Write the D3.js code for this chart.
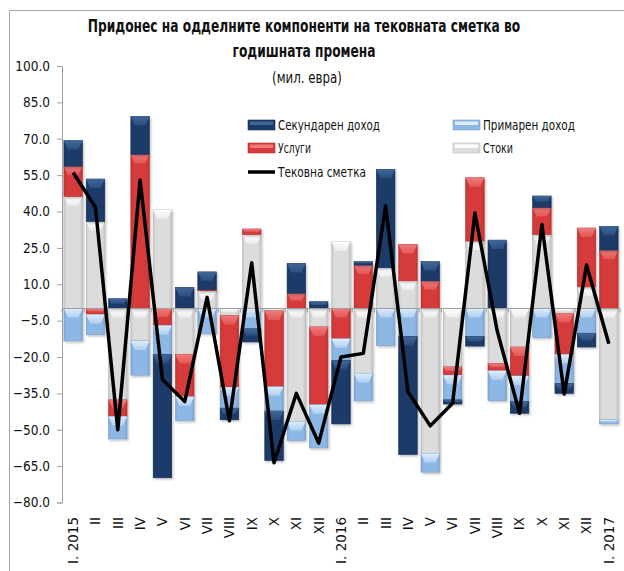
<!DOCTYPE html>
<html>
<head>
<meta charset="utf-8">
<script src="https://cdn.jsdelivr.net/npm/d3@7/dist/d3.min.js"></script>
<style>
  html, body { margin: 0; padding: 0; background: #fff; }
  svg { display: block; }
</style>
</head>
<body>
<svg id="chart" width="624" height="571"></svg>
<script>
// months on the category axis
const months = ["I. 2015","II","III","IV","V","VI","VII","VIII","IX","X","XI","XII",
                "I. 2016","II","III","IV","V","VI","VII","VIII","IX","X","XI","XII","I. 2017"];

// contributions, mil. EUR
const goods     = [46.2, 35.9, -37.7, -13.4, 40.7, -19.0, 7.3, -2.9, 30.5, -1.0, -46.6, -7.6,
                   27.5, -26.8, 16.8, 11.4, -59.8, -24.1, 27.8, -22.7, -15.9, 30.5, -2.0, 8.9, -45.9];
const services  = [12.5, -2.5, -6.8, 63.6, -7.0, -17.4, 0.5, -29.6, 2.3, -31.3, 6.3, -32.1,
                   -12.5, 17.9, 0.0, 15.0, 11.4, -3.4, 26.1, -3.0, -11.9, 11.2, -17.0, 24.3, 24.1];
const primary   = [-13.4, -8.3, -9.3, -14.1, -12.0, -9.9, -10.4, -8.6, -8.4, -10.0, -7.8, -17.8,
                   -8.9, -11.3, -15.3, -11.5, -7.7, -10.2, -11.5, -12.3, -10.6, -12.0, -12.0, -10.2, -1.7];
const secondary = [10.5, 17.5, 4.0, 15.6, -50.8, 8.7, 7.3, -4.8, -5.4, -20.4, 12.3, 2.8,
                   -26.2, 1.4, 40.6, -48.7, 7.9, -1.7, -4.0, 28.2, -4.8, 4.7, -4.0, -5.7, 9.8];
const current   = [56.1, 41.7, -50.0, 53.0, -29.3, -38.4, 4.6, -46.3, 18.9, -63.6, -35.0, -55.5,
                   -20.0, -18.5, 42.4, -34.3, -48.4, -39.1, 39.4, -9.3, -43.2, 34.6, -35.3, 17.9, -14.5];

const yTicks = d3.range(100, -81, -15);

// stacking order as in the original: goods, services, primary, secondary
const series = [
  { key: "goods",     name: "Стоки",            values: goods,     base: "#dcdcdc", top: "#ffffff", edge: "#b8b8b8" },
  { key: "services",  name: "Услуги",           values: services,  base: "#d63a3a", top: "#f07a7a", edge: "#b83030" },
  { key: "primary",   name: "Примарен доход",   values: primary,   base: "#8db8e6", top: "#dcecfb", edge: "#7aa0c8" },
  { key: "secondary", name: "Секундарен доход", values: secondary, base: "#1d3b69", top: "#3e6799", edge: "#17305a" }
];

const narrow = "'DejaVu Sans Condensed', 'Liberation Sans Narrow', 'Arial Narrow', sans-serif";

const svg = d3.select("#chart");

// squeeze a text horizontally so it spans the given width (the original uses a narrow face)
function fitText(sel, x, y, width, anchor) {
  const w = sel.node().getComputedTextLength();
  const sx = Math.min(1, width / w);
  sel.attr("x", 0).attr("y", 0)
     .attr("text-anchor", anchor)
     .attr("transform", `translate(${x},${y}) scale(${sx},1)`);
}

// outer frame (only top and left edges are visible)
svg.append("path")
    .attr("d", "M9.5,640 L9.5,10.5 L700,10.5")
    .attr("fill", "none")
    .attr("stroke", "#a6a6a6");

// title
const title = svg.append("g")
    .attr("font-family", narrow)
    .attr("fill", "#111");
fitText(title.append("text")
    .attr("font-size", 17.5).attr("font-weight", "bold")
    .text("Придонес  на одделните компоненти  на тековната сметка во"), 304, 32, 433, "middle");
fitText(title.append("text")
    .attr("font-size", 17.5).attr("font-weight", "bold")
    .text("годишната  промена"), 304, 57, 143, "middle");
fitText(title.append("text")
    .attr("font-size", 16)
    .text("(мил. евра)"), 307, 83, 70, "middle");

// scales
const x = d3.scaleBand()
    .domain(d3.range(months.length))
    .range([62, 620])
    .paddingInner(0.17)
    .paddingOuter(0.085);

const y = d3.scaleLinear()
    .domain([-80, 100])
    .range([502.5, 66]);

// drop shadow for the bars
const defs = svg.append("defs");
const shadow = defs.append("filter").attr("id", "shadow")
    .attr("x", "-20%").attr("y", "-20%").attr("width", "150%").attr("height", "150%");
shadow.append("feDropShadow")
    .attr("dx", 1.2).attr("dy", 1.5).attr("stdDeviation", 1)
    .attr("flood-color", "#000").attr("flood-opacity", 0.25);

// side shading gradient per series
series.forEach(s => {
  const g = defs.append("linearGradient").attr("id", "grad-" + s.key)
      .attr("x1", 0).attr("x2", 1).attr("y1", 0).attr("y2", 0);
  g.append("stop").attr("offset", "0%").attr("stop-color", d3.color(s.base).darker(0.25));
  g.append("stop").attr("offset", "15%").attr("stop-color", s.base);
  g.append("stop").attr("offset", "85%").attr("stop-color", s.base);
  g.append("stop").attr("offset", "100%").attr("stop-color", d3.color(s.base).darker(0.3));
  const t = defs.append("linearGradient").attr("id", "top-" + s.key)
      .attr("x1", 0).attr("x2", 0).attr("y1", 0).attr("y2", 1);
  t.append("stop").attr("offset", "0%").attr("stop-color", s.top);
  t.append("stop").attr("offset", "100%").attr("stop-color", d3.interpolateRgb(s.top, s.base)(0.55));
});

// stacked data
const table = months.map((m, i) => {
  const row = { i };
  series.forEach(s => row[s.key] = s.values[i]);
  return row;
});
const stacked = d3.stack()
    .keys(series.map(s => s.key))
    .offset(d3.stackOffsetDiverging)(table);

// y axis
const yAxis = svg.append("g")
    .attr("transform", "translate(62,0)")
    .call(d3.axisLeft(y).tickValues(yTicks).tickFormat(d3.format(".1f")).tickSizeOuter(0).tickSize(5));
yAxis.select(".domain").attr("stroke", "#a0a0a0");
yAxis.selectAll(".tick line").attr("stroke", "#a0a0a0");
yAxis.selectAll(".tick text")
    .attr("x", -12)
    .attr("font-family", narrow)
    .attr("font-size", 13.5)
    .attr("fill", "#111");

// bars
const barLayer = svg.append("g");
stacked.forEach((layer, k) => {
  const s = series[k];
  const g = barLayer.append("g").attr("filter", "url(#shadow)");
  layer.forEach((d, i) => {
    const y0 = y(Math.max(d[0], d[1]));
    const y1 = y(Math.min(d[0], d[1]));
    const h = y1 - y0;
    if (h < 0.3) return;
    const bx = x(i), bw = x.bandwidth();
    g.append("rect")
        .attr("x", bx).attr("y", y0)
        .attr("width", bw).attr("height", h)
        .attr("fill", `url(#grad-${s.key})`)
        .attr("stroke", s.edge).attr("stroke-width", 0.6);
    // bevel cap at the top of the segment
    const b = Math.min(9, h * 0.5);
    const inset = Math.min(4, b * 0.6);
    g.append("path")
        .attr("d", `M${bx},${y0} L${bx + bw},${y0} L${bx + bw - inset},${y0 + b} L${bx + inset},${y0 + b} Z`)
        .attr("fill", `url(#top-${s.key})`);
  });
});

// x axis at zero
const step = (620 - 62) / months.length;
const xAxis = svg.append("g")
    .attr("transform", `translate(0,${y(0)})`);
xAxis.append("line")
    .attr("x1", 62).attr("x2", 620)
    .attr("stroke", "#a0a0a0").attr("stroke-width", 1.2);
xAxis.selectAll("line.tk")
    .data(d3.range(months.length + 1))
    .join("line")
    .attr("class", "tk")
    .attr("x1", i => 62 + i * step)
    .attr("x2", i => 62 + i * step)
    .attr("y1", 0).attr("y2", 4)
    .attr("stroke", "#a0a0a0");

// category labels, rotated
svg.append("g")
    .selectAll("text")
    .data(months)
    .join("text")
    .attr("transform", (d, i) => `translate(${x(i) + x.bandwidth() / 2},517) rotate(-90)`)
    .attr("dy", "0.36em")
    .attr("text-anchor", "end")
    .attr("font-family", "'DejaVu Sans', Verdana, sans-serif")
    .attr("font-size", 13.5)
    .attr("fill", "#111")
    .text(d => d);

// current account line
const line = d3.line()
    .x((d, i) => x(i) + x.bandwidth() / 2)
    .y(d => y(d));
svg.append("path")
    .datum(current)
    .attr("d", line)
    .attr("fill", "none")
    .attr("stroke", "#000")
    .attr("stroke-width", 3.5)
    .attr("stroke-linejoin", "round");

// legend
const legendItems = [
  { s: series[3], x: 248, y: 125, w: 102 },
  { s: series[2], x: 453, y: 125, w: 92 },
  { s: series[1], x: 248, y: 148, w: 33 },
  { s: series[0], x: 453, y: 148, w: 30 },
  { s: null, name: "Тековна сметка", x: 248, y: 172, w: 88 }
];
const legend = svg.append("g");
legendItems.forEach(it => {
  const g = legend.append("g").attr("transform", `translate(${it.x},${it.y})`);
  if (it.s) {
    g.append("rect")
        .attr("x", 0).attr("y", -5).attr("width", 27).attr("height", 10)
        .attr("fill", it.s.base).attr("stroke", it.s.edge).attr("stroke-width", 0.6);
    g.append("rect")
        .attr("x", 2).attr("y", -3.5).attr("width", 23).attr("height", 3.5)
        .attr("fill", it.s.top);
  } else {
    g.append("line")
        .attr("x1", 0).attr("x2", 27)
        .attr("stroke", "#000").attr("stroke-width", 3.5);
  }
  const t = g.append("text")
      .attr("dy", "0.35em")
      .attr("font-family", narrow)
      .attr("font-size", 14.5)
      .attr("fill", "#111")
      .text(it.s ? it.s.name : it.name);
  fitText(t, 30, 0, it.w, "start");
});
</script>
</body>
</html>
